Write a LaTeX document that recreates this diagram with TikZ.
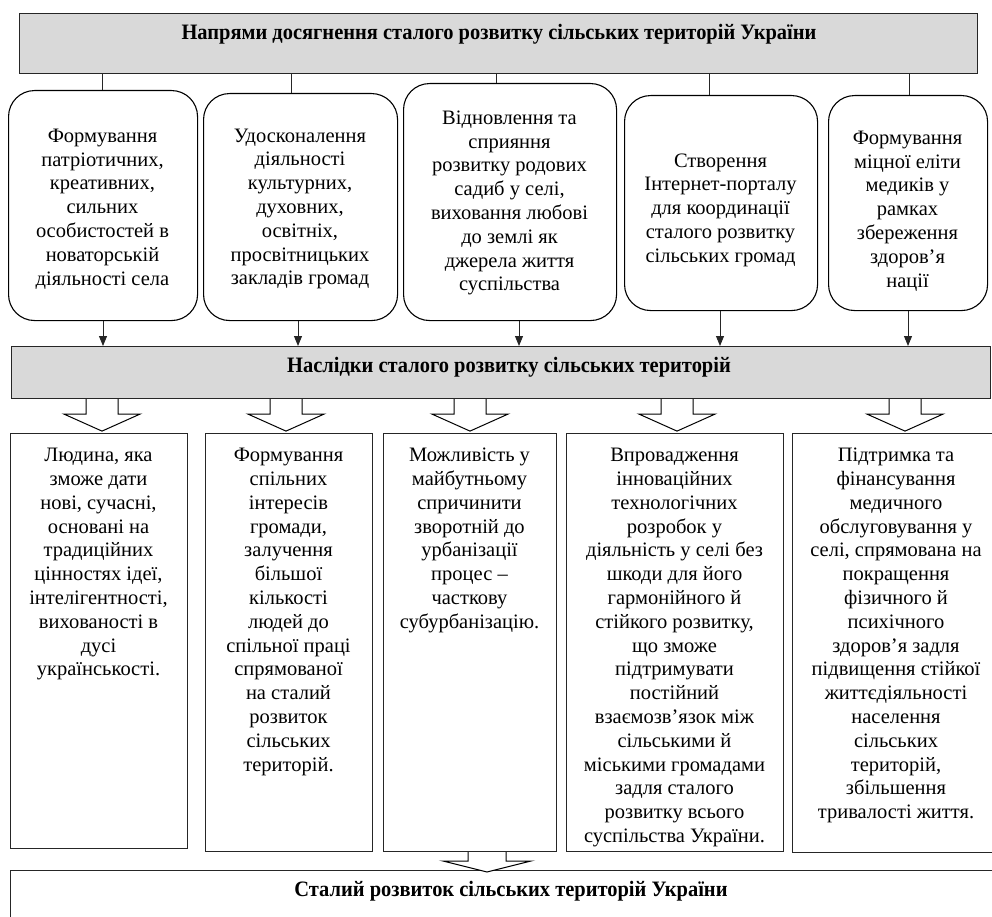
\documentclass[tikz,border=0pt]{standalone}
\usepackage{fontspec}
\setmainfont{Liberation Serif}
\usetikzlibrary{arrows.meta}
\newcommand{\hdtxt}[1]{\scalebox{0.93}[1]{#1}}
\tikzset{
  banner/.style={draw=black!85, line width=1.1pt, fill=black!15, anchor=north west, inner sep=0pt},
  rbox/.style={draw=black, line width=1.1pt, rounded corners=26pt, anchor=north west, inner sep=0pt},
  sbox/.style={draw=black!85, line width=1pt, anchor=north west, inner sep=0pt},
  body/.style={font=\fontsize{20.5}{23.8}\selectfont, align=center, inner sep=0pt},
  head/.style={font=\bfseries\fontsize{22}{26}\selectfont, inner sep=0pt},
  conn/.style={line width=0.9pt, draw=black!85},
  arr/.style={line width=0.9pt, draw=black!85, -{Triangle[length=10pt,width=8pt]}},
  hollowbig/.pic={\draw[line width=1pt, fill=white] (-16,0) -- (-16,15) -- (-38,15) -- (0,32) -- (38,15) -- (16,15) -- (16,0);},
  hollowsmall/.pic={\draw[line width=1pt, fill=white] (-19,0) -- (-19,9) -- (-44,9) -- (0,20) -- (44,9) -- (19,9) -- (19,0);},
}
\begin{document}
\begin{tikzpicture}[x=1pt, y=-1pt]
\useasboundingbox (0,0) rectangle (992,917);
\clip (0,0) rectangle (992,917);
% top banner
\node[banner, minimum width=958pt, minimum height=60pt] (top) at (19,13) {};
\node[head] (toptext) at (499,34) {\hdtxt{Напрями досягнення сталого розвитку сільських територій України}};
% top row rounded boxes
\node[rbox, minimum width=189pt, minimum height=230pt] (b1) at (8,90) {};
\node[rbox, minimum width=194pt, minimum height=227pt] (b2) at (203,93) {};
\node[rbox, minimum width=213pt, minimum height=237pt] (b3) at (403,83) {};
\node[rbox, minimum width=193pt, minimum height=215pt] (b4) at (624,95) {};
\node[rbox, minimum width=159pt, minimum height=215pt] (b5) at (828,95) {};
\node[body] (t1) at (102.5,209) {Формування\\патріотичних,\\креативних,\\сильних\\особистостей в\\новаторській\\діяльності села};
\node[body] (t2) at (300,209) {Удосконалення\\діяльності\\культурних,\\духовних,\\освітніх,\\просвітницьких\\закладів громад};
\node[body] (t3) at (509.5,203) {Відновлення та\\сприяння\\розвитку родових\\садиб у селі,\\виховання любові\\до землі як\\джерела життя\\суспільства};
\node[body] (t4) at (720.5,210) {Створення\\Інтернет-порталу\\для координації\\сталого розвитку\\сільських громад};
\node[body] (t5) at (907.5,211) {Формування\\міцної еліти\\медиків у\\рамках\\збереження\\здоров’я\\нації};
% connectors from top banner
\coordinate (x1) at (102,0);
\coordinate (x2) at (291,0);
\coordinate (x3) at (496,0);
\coordinate (x4) at (709,0);
\coordinate (x5) at (909,0);
\draw[conn] (x1 |- top.south) -- (x1 |- b1.north);
\draw[conn] (x2 |- top.south) -- (x2 |- b2.north);
\draw[conn] (x3 |- top.south) -- (x3 |- b3.north);
\draw[conn] (x4 |- top.south) -- (x4 |- b4.north);
\draw[conn] (x5 |- top.south) -- (x5 |- b5.north);
% middle banner
\node[banner, minimum width=979pt, minimum height=52pt] (mid) at (11,346) {};
\node[head] (midtext) at (509,367) {\hdtxt{Наслідки сталого розвитку сільських територій}};
% arrows into middle banner
\coordinate (y1) at (103,0);
\coordinate (y2) at (298,0);
\coordinate (y3) at (519,0);
\coordinate (y4) at (720,0);
\coordinate (y5) at (908,0);
\draw[arr] (y1 |- b1.south) -- (y1 |- mid.north);
\draw[arr] (y2 |- b2.south) -- (y2 |- mid.north);
\draw[arr] (y3 |- b3.south) -- (y3 |- mid.north);
\draw[arr] (y4 |- b4.south) -- (y4 |- mid.north);
\draw[arr] (y5 |- b5.south) -- (y5 |- mid.north);
% bottom row boxes
\node[sbox, minimum width=177pt, minimum height=415pt] (c1) at (10,433) {};
\node[sbox, minimum width=167pt, minimum height=418pt] (c2) at (205,433) {};
\node[sbox, minimum width=173pt, minimum height=418pt] (c3) at (383,433) {};
\node[sbox, minimum width=217pt, minimum height=418pt] (c4) at (566,433) {};
\node[sbox, minimum width=206pt, minimum height=419pt] (c5) at (792,433) {};
% hollow arrows from middle banner to bottom boxes
\path (102,0 |- mid.south) pic {hollowbig};
\path (286,0 |- mid.south) pic {hollowbig};
\path (470,0 |- mid.south) pic {hollowbig};
\path (677,0 |- mid.south) pic {hollowbig};
\path (905,0 |- mid.south) pic {hollowbig};
\node[body, anchor=north] (u1) at (98.5,448) {Людина, яка\\зможе дати\\нові, сучасні,\\основані на\\традиційних\\цінностях ідеї,\\інтелігентності,\\вихованості в\\дусі\\українськості.};
\node[body, anchor=north] (u2) at (288.5,448) {Формування\\спільних\\інтересів\\громади,\\залучення\\більшої\\кількості\\людей до\\спільної праці\\спрямованої\\на сталий\\розвиток\\сільських\\територій.};
\node[body, anchor=north] (u3) at (469.5,448) {Можливість у\\майбутньому\\спричинити\\зворотній до\\урбанізації\\процес –\\часткову\\субурбанізацію.};
\node[body, anchor=north] (u4) at (674.5,448) {Впровадження\\інноваційних\\технологічних\\розробок у\\діяльність у селі без\\шкоди для його\\гармонійного й\\стійкого розвитку,\\що зможе\\підтримувати\\постійний\\взаємозв’язок між\\сільськими й\\міськими громадами\\задля сталого\\розвитку всього\\суспільства України.};
\node[body, anchor=north] (u5) at (896,448) {Підтримка та\\фінансування\\медичного\\обслуговування у\\селі, спрямована на\\покращення\\фізичного й\\психічного\\здоров’я задля\\підвищення стійкої\\життєдіяльності\\населення\\сільських\\територій,\\збільшення\\тривалості життя.};
% bottom banner
\node[sbox, minimum width=990pt, minimum height=60pt] (bot) at (10,870) {};
\path (487,0 |- c3.south) pic {hollowsmall};
\node[head] (bottext) at (511,891) {\hdtxt{Сталий розвиток сільських територій України}};
\end{tikzpicture}
\end{document}
